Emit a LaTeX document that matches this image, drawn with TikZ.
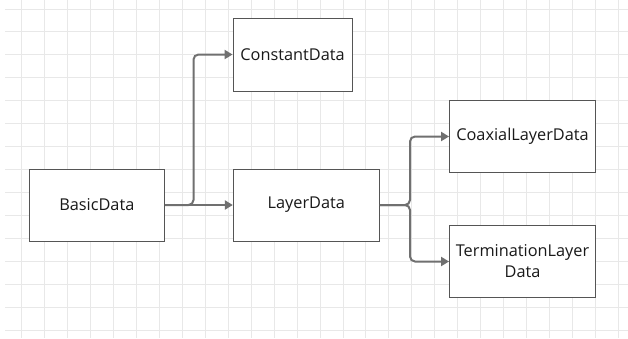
\documentclass[tikz,border=0pt]{standalone}
\usepackage{fontspec}
\setmainfont{Open Sans}
\usetikzlibrary{arrows.meta}
\definecolor{gridc}{HTML}{E8E8E8}
\definecolor{boxc}{HTML}{555555}
\definecolor{linkc}{HTML}{707070}
\tikzset{
  databox/.style={draw=boxc, line width=0.9pt, fill=white, inner sep=0pt,
    align=center, font=\fontsize{16.3}{21}\selectfont, text=black!90},
  link/.style={draw=linkc, line width=2pt, rounded corners=5pt,
    -{Triangle[length=8pt,width=9pt]}}
}
\begin{document}
\begin{tikzpicture}[x=1pt,y=-1pt]
  \useasboundingbox (0,0) rectangle (628,338);
  \fill[white] (0,0) rectangle (628,338);
  % background grid
  \foreach \i in {0,...,26} {
    \draw[gridc, line width=1pt] ({21.7+22.95*\i},0) -- ({21.7+22.95*\i},338);
  }
  \foreach \j in {0,...,14} {
    \draw[gridc, line width=1pt] (5,{9+22.93*\j}) -- (628,{9+22.93*\j});
  }
  % boxes
  \node[databox, minimum width=135pt, minimum height=72pt] (basic) at (96.8,205) {BasicData};
  \node[databox, minimum width=119pt, minimum height=73pt] (const) at (292.5,54.5) {ConstantData};
  \node[databox, minimum width=146pt, minimum height=72pt] (layer) at (306.3,205) {LayerData};
  \node[databox, minimum width=146pt, minimum height=72pt] (coax) at (522.5,136.5) {CoaxialLayerData};
  \node[databox, minimum width=146pt, minimum height=72pt] (term) at (522.5,261.5) {TerminationLayer\\Data};
  % connectors
  \coordinate (j1) at (193.5,205);
  \coordinate (j2) at (410,205);
  \draw[link] (basic.east) -- (layer.west);
  \draw[link] (basic.east) -- (j1) |- (const.west);
  \draw[link] (layer.east) -- (j2) |- (coax.west);
  \draw[link] (layer.east) -- (j2) |- (term.west);
\end{tikzpicture}
\end{document}
